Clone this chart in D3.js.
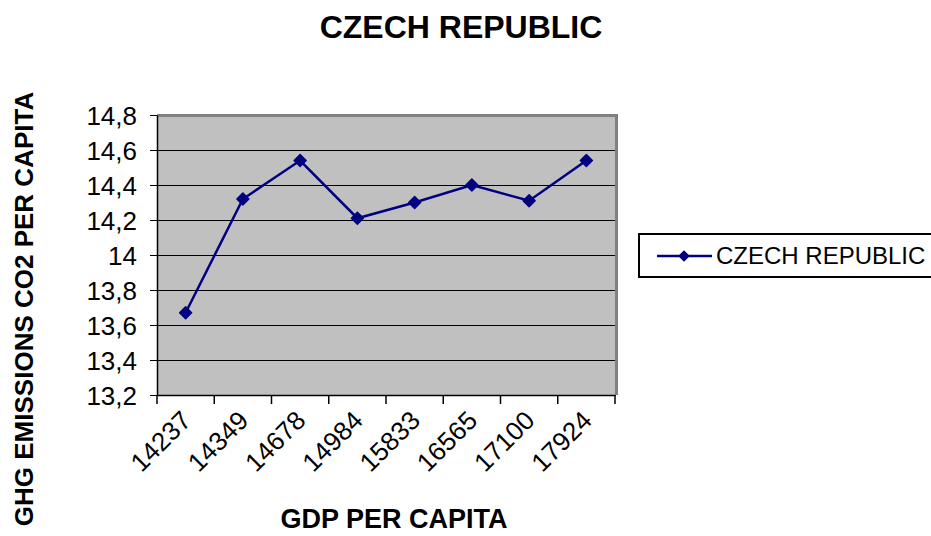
<!DOCTYPE html>
<html>
<head>
<meta charset="utf-8">
<script src="https://cdn.jsdelivr.net/npm/d3@7"></script>
<style>
	body { margin: 0; background: #fff; }
	svg text { font-family: "Liberation Sans", Arial, sans-serif; }
</style>
</head>
<body>
<svg id="chart" width="931" height="536"></svg>
<script>

var gdpLabels = ["14237", "14349", "14678", "14984", "15833", "16565", "17100", "17924"];
var co2Values = [13.67, 14.32, 14.54, 14.21, 14.30, 14.40, 14.31, 14.54];
var yTicks = [13.2, 13.4, 13.6, 13.8, 14, 14.2, 14.4, 14.6, 14.8];
var seriesName = "CZECH REPUBLIC";

function renderChart(element) {

	var svg = d3.select(element);

	var plot = { left: 157, top: 115, right: 615, bottom: 395 };

	var x = d3.scaleBand()
		.domain(gdpLabels)
		.range([plot.left, plot.right]);

	var y = d3.scaleLinear()
		.domain([13.2, 14.8])
		.range([plot.bottom, plot.top]);

	var fmt = d => String(+d.toFixed(1)).replace(".", ",");

	// grey plot area
	svg.append("rect")
		.attr("x", plot.left)
		.attr("y", plot.top)
		.attr("width", plot.right - plot.left)
		.attr("height", plot.bottom - plot.top)
		.attr("fill", "#c0c0c0");

	// gridlines
	svg.append("g")
		.selectAll("line")
		.data(yTicks.slice(1, -1))
		.enter()
		.append("line")
		.attr("x1", plot.left)
		.attr("x2", plot.right)
		.attr("y1", d => Math.round(y(d)) + 0.5)
		.attr("y2", d => Math.round(y(d)) + 0.5)
		.attr("stroke", "#000")
		.attr("stroke-width", 1);

	// top and right border (grey)
	svg.append("path")
		.attr("d", "M" + plot.left + "," + (plot.top + 0.5) + "H" + (plot.right + 1.5) + "V" + plot.bottom)
		.attr("fill", "none")
		.attr("stroke", "#808080")
		.attr("stroke-width", 3);

	// y axis
	var yAxis = svg.append("g")
		.attr("transform", "translate(" + plot.left + ",0)")
		.call(d3.axisLeft(y).tickValues(yTicks).tickSize(7).tickSizeOuter(0).tickPadding(13).tickFormat(fmt));

	yAxis.select(".domain").attr("stroke", "#000").attr("stroke-width", 1.5);
	yAxis.selectAll(".tick line").attr("stroke", "#000");
	yAxis.selectAll("text")
		.attr("font-size", "26px")
		.attr("font-family", "Liberation Sans, Arial, sans-serif")
		.attr("fill", "#000")
		.attr("dy", "0.36em");

	// x axis
	var xAxis = svg.append("g")
		.attr("transform", "translate(0," + plot.bottom + ")")
		.call(d3.axisBottom(x).tickSize(0).tickFormat(""));

	xAxis.select(".domain").attr("stroke", "#000").attr("stroke-width", 1.5);

	var edges = gdpLabels.map(d => x(d)).concat([plot.right]);

	svg.append("g")
		.selectAll("line")
		.data(edges)
		.enter()
		.append("line")
		.attr("x1", d => d)
		.attr("x2", d => d)
		.attr("y1", plot.bottom)
		.attr("y2", plot.bottom + 9)
		.attr("stroke", "#000")
		.attr("stroke-width", 1.5);

	svg.append("g")
		.selectAll("text")
		.data(gdpLabels)
		.enter()
		.append("text")
		.attr("transform", d => "translate(" + (x(d) + x.bandwidth() / 2 + 7) + "," + (plot.bottom + 27) + ") rotate(-45)")
		.attr("text-anchor", "end")
		.attr("font-size", "26px")
		.attr("fill", "#000")
		.text(d => d);

	// series line
	var line = d3.line()
		.x((d, i) => x(gdpLabels[i]) + x.bandwidth() / 2)
		.y(d => y(d));

	svg.append("path")
		.datum(co2Values)
		.attr("d", line)
		.attr("fill", "none")
		.attr("stroke", "#000080")
		.attr("stroke-width", 2.5);

	var marker = d3.symbol().type(d3.symbolSquare).size(72);

	svg.append("g")
		.selectAll("path")
		.data(co2Values)
		.enter()
		.append("path")
		.attr("d", marker)
		.attr("transform", (d, i) => "translate(" + (x(gdpLabels[i]) + x.bandwidth() / 2) + "," + y(d) + ") rotate(45)")
		.attr("fill", "#000080")
		.attr("stroke", "#000080")
		.attr("stroke-width", 1.5)
		.attr("stroke-linejoin", "round");

	// title
	svg.append("text")
		.attr("x", 461)
		.attr("y", 38)
		.attr("text-anchor", "middle")
		.attr("font-size", "32px")
		.attr("font-weight", "bold")
		.attr("fill", "#000")
		.text(seriesName);

	// axis titles
	svg.append("text")
		.attr("x", 394)
		.attr("y", 528)
		.attr("text-anchor", "middle")
		.attr("font-size", "27px")
		.attr("font-weight", "bold")
		.attr("fill", "#000")
		.text("GDP PER CAPITA");

	svg.append("text")
		.attr("transform", "translate(33,309) rotate(-90)")
		.attr("text-anchor", "middle")
		.attr("font-size", "26px")
		.attr("font-weight", "bold")
		.attr("fill", "#000")
		.text("GHG EMISSIONS CO2 PER CAPITA");

	// legend
	var legend = svg.append("g");

	legend.append("rect")
		.attr("x", 639)
		.attr("y", 234)
		.attr("width", 300)
		.attr("height", 43)
		.attr("fill", "#fff")
		.attr("stroke", "#000")
		.attr("stroke-width", 2);

	legend.append("line")
		.attr("x1", 657)
		.attr("x2", 712)
		.attr("y1", 256)
		.attr("y2", 256)
		.attr("stroke", "#000080")
		.attr("stroke-width", 2.5);

	legend.append("path")
		.attr("d", d3.symbol().type(d3.symbolSquare).size(45))
		.attr("transform", "translate(684,256) rotate(45)")
		.attr("fill", "#000080")
		.attr("stroke", "#000080")
		.attr("stroke-width", 1.5);

	legend.append("text")
		.attr("x", 716)
		.attr("y", 264)
		.attr("font-size", "24px")
		.attr("fill", "#000")
		.text(seriesName);
}

renderChart("#chart");
</script>
</body>
</html>
